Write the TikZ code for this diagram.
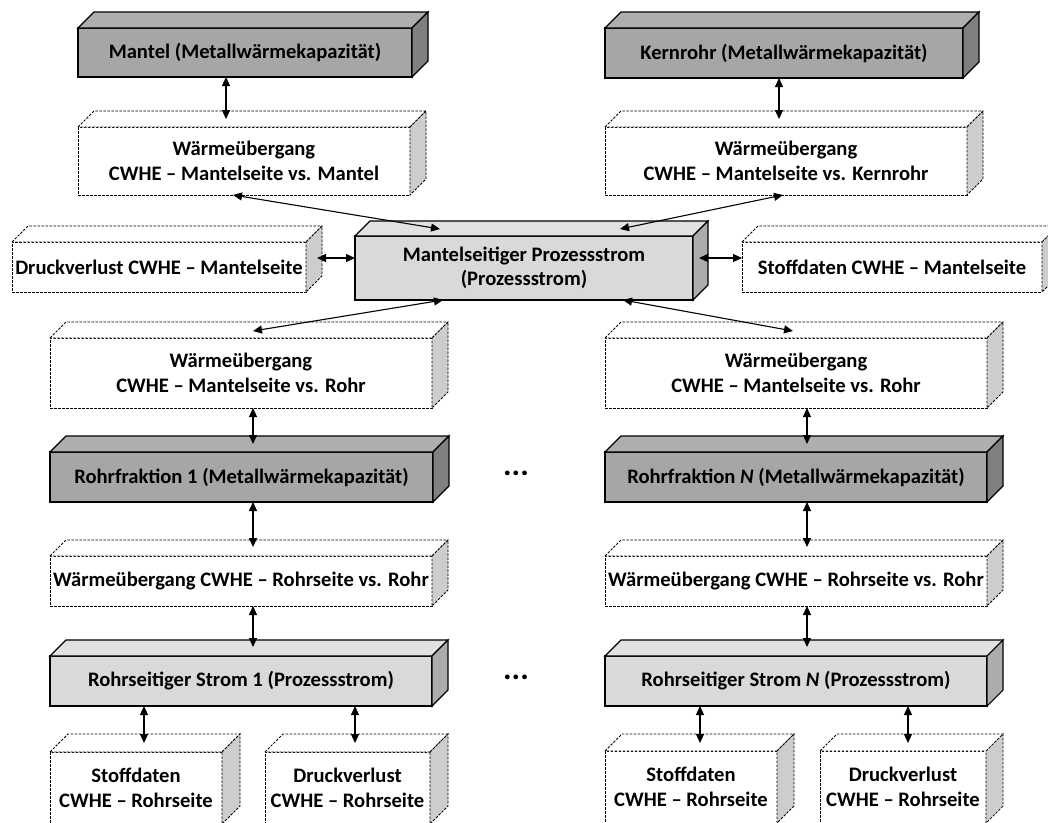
\documentclass[tikz,border=0pt]{standalone}
\usepackage{fontspec}
\setmainfont{Carlito}
\usetikzlibrary{arrows.meta,calc}

\definecolor{dkF}{RGB}{166,166,166}
\definecolor{dkT}{RGB}{174,174,174}
\definecolor{dkS}{RGB}{128,128,128}
\definecolor{ltF}{RGB}{217,217,217}
\definecolor{ltT}{RGB}{225,225,225}
\definecolor{ltS}{RGB}{172,172,172}
\definecolor{dsS}{RGB}{205,205,205}

\tikzset{
  solidline/.style={draw=black, line width=1.1pt, line join=miter},
  dkfront/.style={solidline, fill=dkF},
  dktop/.style={solidline, fill=dkT},
  dkside/.style={solidline, fill=dkS},
  ltfront/.style={solidline, fill=ltF},
  lttop/.style={solidline, fill=ltT},
  ltside/.style={solidline, fill=ltS},
  dsline/.style={draw=black, line width=0.75pt, dash pattern=on 2.5pt off 1.5pt},
  dsfront/.style={dsline, fill=white},
  dstop/.style={dsline, fill=white},
  dsside/.style={dsline, fill=dsS},
  box/.style={inner sep=0pt, outer sep=0pt, align=center,
    font=\fontsize{20.6}{24.5}\selectfont\bfseries},
  conn/.style={line width=1.1pt,
    {Triangle[length=9pt,width=8pt]}-{Triangle[length=9pt,width=8pt]}},
  dots/.style={anchor=base, inner sep=0pt, font=\fontsize{32}{32}\selectfont\bfseries},
}

% cuboid: name, style prefix, x1, y1, x2, y2 (front face), depth, text
\newcommand{\cuboid}[8]{%
  \node[box,#2front,minimum width={#5pt-#3pt},minimum height={#6pt-#4pt}]
    (#1) at ({(#3+#5)/2},{(#4+#6)/2}) {#8};
  \path[#2top] (#1.north west) -- ++(#7,-#7) -- ($(#1.north east)+(#7,-#7)$)
    -- (#1.north east) -- cycle;
  \path[#2side] (#1.north east) -- ++(#7,-#7) -- ($(#1.south east)+(#7,-#7)$)
    -- (#1.south east) -- cycle;
}

\begin{document}
\begin{tikzpicture}[x=1pt,y=-1pt]
\useasboundingbox (0,0) rectangle (1048,822);
\clip (0,0) rectangle (1048,822);

% upper part: shell side
\cuboid{mantel}{dk}{78}{28}{412}{77}{16}{Mantel (Metallwärmekapazität)}
\cuboid{kern}{dk}{605}{28}{963}{78}{16}{Kernrohr (Metallwärmekapazität)}
\cuboid{wuema}{ds}{78}{127}{410}{195}{16}{Wärmeübergang\\CWHE – Mantelseite vs. Mantel}
\cuboid{wuke}{ds}{605}{127}{967}{195}{16}{Wärmeübergang\\CWHE – Mantelseite vs. Kernrohr}
\cuboid{druckm}{ds}{12}{242}{306}{292}{16}{Druckverlust CWHE – Mantelseite}
\cuboid{proz}{lt}{355}{236}{693}{300}{15}{Mantelseitiger Prozessstrom\\(Prozessstrom)}
\cuboid{stoffm}{ds}{742}{242}{1042}{292}{16}{Stoffdaten CWHE – Mantelseite}

% tube fractions
\cuboid{wumrl}{ds}{50}{338}{432}{408}{16}{Wärmeübergang\\CWHE – Mantelseite vs. Rohr}
\cuboid{wumrr}{ds}{605}{338}{987}{408}{16}{Wärmeübergang\\CWHE – Mantelseite vs. Rohr}
\cuboid{rfa}{dk}{50}{452}{433}{502}{16}{Rohrfraktion 1 (Metallwärmekapazität)}
\cuboid{rfn}{dk}{605}{452}{987}{502}{16}{Rohrfraktion \textit{N} (Metallwärmekapazität)}
\cuboid{wursl}{ds}{50}{556}{432}{606}{16}{Wärmeübergang CWHE – Rohrseite vs. Rohr}
\cuboid{wursr}{ds}{605}{556}{987}{606}{16}{Wärmeübergang CWHE – Rohrseite vs. Rohr}
\cuboid{rsa}{lt}{50}{656}{432}{706}{16}{Rohrseitiger Strom 1 (Prozessstrom)}
\cuboid{rsn}{lt}{605}{656}{987}{706}{16}{Rohrseitiger Strom \textit{N} (Prozessstrom)}
\cuboid{stl}{ds}{50}{752}{222}{824}{18}{Stoffdaten\\CWHE – Rohrseite}
\cuboid{dvl}{ds}{265}{752}{430}{824}{18}{Druckverlust\\CWHE – Rohrseite}
\cuboid{str}{ds}{605}{751}{777}{823}{17}{Stoffdaten\\CWHE – Rohrseite}
\cuboid{dvr}{ds}{820}{751}{986}{823}{17}{Druckverlust\\CWHE – Rohrseite}

\node[dots] (dotsa) at (516,475) {...};
\node[dots] (dotsb) at (516,679) {...};

% connectors
\draw[conn] ($(mantel.south west)+(148,0)$) -- ($(wuema.north west)+(148,-8)$);
\draw[conn] ($(kern.south west)+(174,0)$) -- ($(wuke.north west)+(174,-8)$);
\draw[conn] ($(wuema.south west)+(155,0)$) -- ($(proz.north west)+(85,-7)$);
\draw[conn] ($(wuke.south west)+(178,0)$) -- ($(proz.north west)+(265,-7)$);
\draw[conn] ($(druckm.north east)+(11,16)$) -- ($(proz.north west)+(0,22)$);
\draw[conn] ($(proz.north east)+(6,22)$) -- ($(stoffm.north west)+(0,16)$);
\draw[conn] ($(proz.south west)+(88,0)$) -- ($(wumrl.north west)+(203,-7)$);
\draw[conn] ($(proz.south west)+(268,0)$) -- ($(wumrr.north west)+(188,-7)$);

\draw[conn] ($(wumrl.south west)+(203,0)$) -- ($(rfa.north west)+(203,-8)$);
\draw[conn] ($(rfa.south west)+(203,0)$) -- ($(wursl.north west)+(203,-9)$);
\draw[conn] ($(wursl.south west)+(203,0)$) -- ($(rsa.north west)+(203,-9)$);
\draw[conn] ($(rsa.south west)+(94,0)$) -- ($(stl.north west)+(94,-9)$);
\draw[conn] ($(rsa.south west)+(305,0)$) -- ($(dvl.north west)+(90,-9)$);

\draw[conn] ($(wumrr.south west)+(202,0)$) -- ($(rfn.north west)+(202,-8)$);
\draw[conn] ($(rfn.south west)+(202,0)$) -- ($(wursr.north west)+(202,-9)$);
\draw[conn] ($(wursr.south west)+(202,0)$) -- ($(rsn.north west)+(202,-9)$);
\draw[conn] ($(rsn.south west)+(95,0)$) -- ($(str.north west)+(95,-8)$);
\draw[conn] ($(rsn.south west)+(303,0)$) -- ($(dvr.north west)+(88,-8)$);
\end{tikzpicture}
\end{document}
